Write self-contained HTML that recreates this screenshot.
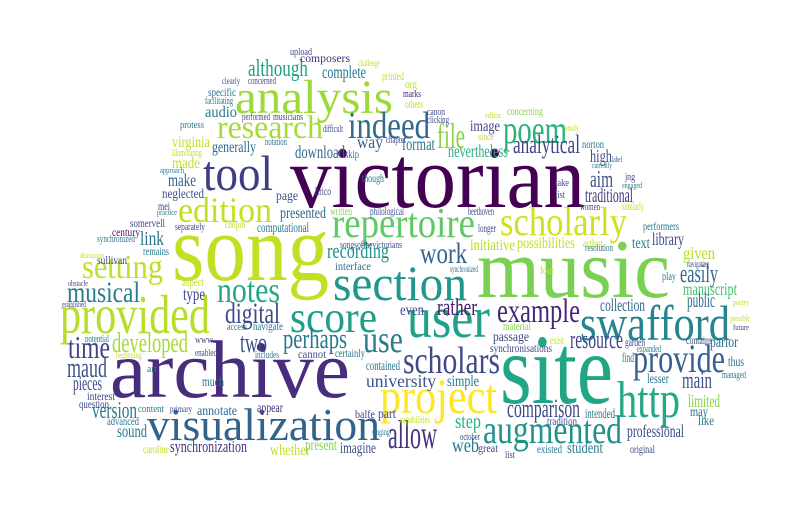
<!DOCTYPE html>
<html><head><meta charset="utf-8">
<style>
html,body{margin:0;padding:0;background:#fff;width:800px;height:520px;overflow:hidden}
svg{display:block}
text{font-family:"Liberation Serif",serif}
</style></head>
<body>
<svg width="800" height="520" viewBox="0 0 800 520">
<rect width="800" height="520" fill="#fff"/>
<g>
<text x="290" y="207" font-size="88" fill="#440154" textLength="295" lengthAdjust="spacingAndGlyphs">victorian</text>
<text x="172" y="280" font-size="94" fill="#c2df23" textLength="157" lengthAdjust="spacingAndGlyphs">song</text>
<text x="477" y="297" font-size="84" fill="#7ad151" textLength="193" lengthAdjust="spacingAndGlyphs">music</text>
<text x="110" y="397" font-size="82" fill="#472d7b" textLength="240" lengthAdjust="spacingAndGlyphs">archive</text>
<text x="500" y="403" font-size="100" fill="#21a685" textLength="113" lengthAdjust="spacingAndGlyphs">site</text>
<text x="235" y="113" font-size="48" fill="#9cd93b" textLength="158" lengthAdjust="spacingAndGlyphs">analysis</text>
<text x="203" y="190" font-size="50" fill="#3e3f82" textLength="70" lengthAdjust="spacingAndGlyphs">tool</text>
<text x="178" y="222" font-size="36" fill="#c2df23" textLength="94" lengthAdjust="spacingAndGlyphs">edition</text>
<text x="217" y="138" font-size="33" fill="#a5db36" textLength="106" lengthAdjust="spacingAndGlyphs">research</text>
<text x="348" y="138" font-size="38" fill="#31688e" textLength="82" lengthAdjust="spacingAndGlyphs">indeed</text>
<text x="333" y="300" font-size="50" fill="#1f978b" textLength="134" lengthAdjust="spacingAndGlyphs">section</text>
<text x="217" y="302" font-size="36" fill="#22a884" textLength="63" lengthAdjust="spacingAndGlyphs">notes</text>
<text x="60" y="333" font-size="55" fill="#b5de2b" textLength="150" lengthAdjust="spacingAndGlyphs">provided</text>
<text x="82" y="278" font-size="34" fill="#bddf26" textLength="81" lengthAdjust="spacingAndGlyphs">setting</text>
<text x="67" y="302" font-size="30" fill="#287c8e" textLength="73" lengthAdjust="spacingAndGlyphs">musical</text>
<text x="290" y="332" font-size="44" fill="#1f9e89" textLength="87" lengthAdjust="spacingAndGlyphs">score</text>
<text x="225" y="323" font-size="30" fill="#3e4989" textLength="55" lengthAdjust="spacingAndGlyphs">digital</text>
<text x="68" y="358" font-size="32" fill="#414487" textLength="42" lengthAdjust="spacingAndGlyphs">time</text>
<text x="112" y="352" font-size="28" fill="#a5db36" textLength="76" lengthAdjust="spacingAndGlyphs">developed</text>
<text x="283" y="348" font-size="28" fill="#2a788e" textLength="64" lengthAdjust="spacingAndGlyphs">perhaps</text>
<text x="240" y="352" font-size="28" fill="#3b528b" textLength="27" lengthAdjust="spacingAndGlyphs">two</text>
<text x="363" y="352" font-size="38" fill="#287c8e" textLength="40" lengthAdjust="spacingAndGlyphs">use</text>
<text x="67" y="377" font-size="28" fill="#3b528b" textLength="40" lengthAdjust="spacingAndGlyphs">maud</text>
<text x="73" y="390" font-size="20" fill="#3e4989" textLength="29" lengthAdjust="spacingAndGlyphs">pieces</text>
<text x="92" y="418" font-size="24" fill="#2a788e" textLength="45" lengthAdjust="spacingAndGlyphs">version</text>
<text x="147" y="440" font-size="46" fill="#33638d" textLength="233" lengthAdjust="spacingAndGlyphs">visualization</text>
<text x="170" y="452" font-size="17" fill="#46327e" textLength="77" lengthAdjust="spacingAndGlyphs">synchronization</text>
<text x="388" y="448" font-size="40" fill="#46327e" textLength="49" lengthAdjust="spacingAndGlyphs">allow</text>
<text x="380" y="413" font-size="50" fill="#fde725" textLength="117" lengthAdjust="spacingAndGlyphs">project</text>
<text x="407" y="337" font-size="58" fill="#1fa088" textLength="83" lengthAdjust="spacingAndGlyphs">user</text>
<text x="580" y="340" font-size="50" fill="#25858e" textLength="150" lengthAdjust="spacingAndGlyphs">swafford</text>
<text x="633" y="372" font-size="40" fill="#34618d" textLength="92" lengthAdjust="spacingAndGlyphs">provide</text>
<text x="617" y="417" font-size="52" fill="#22a884" textLength="63" lengthAdjust="spacingAndGlyphs">http</text>
<text x="483" y="443" font-size="40" fill="#21918c" textLength="139" lengthAdjust="spacingAndGlyphs">augmented</text>
<text x="507" y="417" font-size="26" fill="#3e4989" textLength="73" lengthAdjust="spacingAndGlyphs">comparison</text>
<text x="403" y="373" font-size="38" fill="#3e4a89" textLength="97" lengthAdjust="spacingAndGlyphs">scholars</text>
<text x="500" y="235" font-size="40" fill="#d0e11c" textLength="127" lengthAdjust="spacingAndGlyphs">scholarly</text>
<text x="332" y="237" font-size="42" fill="#5ec962" textLength="143" lengthAdjust="spacingAndGlyphs">repertoire</text>
<text x="420" y="263" font-size="30" fill="#33638d" textLength="47" lengthAdjust="spacingAndGlyphs">work</text>
<text x="497" y="322" font-size="34" fill="#482677" textLength="83" lengthAdjust="spacingAndGlyphs">example</text>
<text x="437" y="315" font-size="24" fill="#48186a" textLength="40" lengthAdjust="spacingAndGlyphs">rather</text>
<text x="503" y="143" font-size="40" fill="#2db27d" textLength="64" lengthAdjust="spacingAndGlyphs">poem</text>
<text x="437" y="148" font-size="36" fill="#86d549" textLength="28" lengthAdjust="spacingAndGlyphs">file</text>
<text x="513" y="153" font-size="26" fill="#414487" textLength="67" lengthAdjust="spacingAndGlyphs">analytical</text>
<text x="448" y="157" font-size="18" fill="#29af7f" textLength="60" lengthAdjust="spacingAndGlyphs">nevertheless</text>
<text x="570" y="348" font-size="26" fill="#3e4989" textLength="53" lengthAdjust="spacingAndGlyphs">resource</text>
<text x="682" y="388" font-size="24" fill="#3b528b" textLength="30" lengthAdjust="spacingAndGlyphs">main</text>
<text x="680" y="282" font-size="26" fill="#31688e" textLength="38" lengthAdjust="spacingAndGlyphs">easily</text>
<text x="683" y="295" font-size="18" fill="#44bf70" textLength="54" lengthAdjust="spacingAndGlyphs">manuscript</text>
<text x="687" y="307" font-size="20" fill="#31688e" textLength="28" lengthAdjust="spacingAndGlyphs">public</text>
<text x="590" y="187" font-size="24" fill="#3b528b" textLength="23" lengthAdjust="spacingAndGlyphs">aim</text>
<text x="585" y="202" font-size="20" fill="#46327e" textLength="48" lengthAdjust="spacingAndGlyphs">traditional</text>
<text x="248" y="76" font-size="24" fill="#1f9e89" textLength="60" lengthAdjust="spacingAndGlyphs">although</text>
<text x="322" y="78" font-size="18" fill="#2a788e" textLength="44" lengthAdjust="spacingAndGlyphs">complete</text>
<text x="300" y="62" font-size="12" fill="#46327e" textLength="50" lengthAdjust="spacingAndGlyphs">composers</text>
<text x="382" y="80" font-size="12" fill="#c2df23" textLength="22" lengthAdjust="spacingAndGlyphs">printed</text>
<text x="205" y="117" font-size="16" fill="#287c8e" textLength="32" lengthAdjust="spacingAndGlyphs">audio</text>
<text x="208" y="96" font-size="12" fill="#2a788e" textLength="28" lengthAdjust="spacingAndGlyphs">specific</text>
<text x="172" y="147" font-size="16" fill="#c2df23" textLength="38" lengthAdjust="spacingAndGlyphs">virginia</text>
<text x="212" y="152" font-size="16" fill="#31688e" textLength="44" lengthAdjust="spacingAndGlyphs">generally</text>
<text x="295" y="158" font-size="18" fill="#31688e" textLength="50" lengthAdjust="spacingAndGlyphs">download</text>
<text x="357" y="148" font-size="18" fill="#33638d" textLength="26" lengthAdjust="spacingAndGlyphs">way</text>
<text x="402" y="150" font-size="18" fill="#287c8e" textLength="33" lengthAdjust="spacingAndGlyphs">format</text>
<text x="470" y="131" font-size="16" fill="#3e4989" textLength="30" lengthAdjust="spacingAndGlyphs">image</text>
<text x="172" y="168" font-size="16" fill="#c2df23" textLength="28" lengthAdjust="spacingAndGlyphs">made</text>
<text x="168" y="186" font-size="18" fill="#31688e" textLength="28" lengthAdjust="spacingAndGlyphs">make</text>
<text x="162" y="198" font-size="14" fill="#3b528b" textLength="42" lengthAdjust="spacingAndGlyphs">neglected</text>
<text x="140" y="245" font-size="20" fill="#2a788e" textLength="24" lengthAdjust="spacingAndGlyphs">link</text>
<text x="327" y="258" font-size="22" fill="#21918c" textLength="62" lengthAdjust="spacingAndGlyphs">recording</text>
<text x="280" y="218" font-size="16" fill="#31688e" textLength="46" lengthAdjust="spacingAndGlyphs">presented</text>
<text x="257" y="232" font-size="14" fill="#2a788e" textLength="52" lengthAdjust="spacingAndGlyphs">computational</text>
<text x="276" y="200" font-size="14" fill="#3b528b" textLength="22" lengthAdjust="spacingAndGlyphs">page</text>
<text x="335" y="270" font-size="12" fill="#2a788e" textLength="36" lengthAdjust="spacingAndGlyphs">interface</text>
<text x="330" y="215" font-size="12" fill="#86d549" textLength="22" lengthAdjust="spacingAndGlyphs">written</text>
<text x="370" y="215" font-size="12" fill="#3b528b" textLength="34" lengthAdjust="spacingAndGlyphs">philological</text>
<text x="130" y="227" font-size="12" fill="#3e4989" textLength="35" lengthAdjust="spacingAndGlyphs">somervell</text>
<text x="112" y="236" font-size="12" fill="#48186a" textLength="28" lengthAdjust="spacingAndGlyphs">century</text>
<text x="97" y="264" font-size="12" fill="#3e4989" textLength="30" lengthAdjust="spacingAndGlyphs">sullivan</text>
<text x="183" y="300" font-size="18" fill="#3e4989" textLength="22" lengthAdjust="spacingAndGlyphs">type</text>
<text x="182" y="286" font-size="12" fill="#c2df23" textLength="22" lengthAdjust="spacingAndGlyphs">aspect</text>
<text x="227" y="330" font-size="10" fill="#2a788e" textLength="20" lengthAdjust="spacingAndGlyphs">access</text>
<text x="253" y="330" font-size="12" fill="#2a788e" textLength="30" lengthAdjust="spacingAndGlyphs">navigate</text>
<text x="298" y="358" font-size="12" fill="#3b528b" textLength="28" lengthAdjust="spacingAndGlyphs">cannot</text>
<text x="335" y="357" font-size="12" fill="#2a788e" textLength="30" lengthAdjust="spacingAndGlyphs">certainly</text>
<text x="366" y="370" font-size="14" fill="#2a788e" textLength="34" lengthAdjust="spacingAndGlyphs">contained</text>
<text x="366" y="387" font-size="18" fill="#3b528b" textLength="70" lengthAdjust="spacingAndGlyphs">university</text>
<text x="447" y="386" font-size="16" fill="#2a788e" textLength="32" lengthAdjust="spacingAndGlyphs">simple</text>
<text x="202" y="386" font-size="14" fill="#2a788e" textLength="22" lengthAdjust="spacingAndGlyphs">much</text>
<text x="87" y="400" font-size="12" fill="#3e4989" textLength="28" lengthAdjust="spacingAndGlyphs">interest</text>
<text x="79" y="408" font-size="12" fill="#3e4989" textLength="30" lengthAdjust="spacingAndGlyphs">question</text>
<text x="117" y="437" font-size="18" fill="#2a788e" textLength="30" lengthAdjust="spacingAndGlyphs">sound</text>
<text x="107" y="425" font-size="12" fill="#2a788e" textLength="32" lengthAdjust="spacingAndGlyphs">advanced</text>
<text x="197" y="415" font-size="14" fill="#31688e" textLength="40" lengthAdjust="spacingAndGlyphs">annotate</text>
<text x="257" y="412" font-size="14" fill="#46327e" textLength="26" lengthAdjust="spacingAndGlyphs">appear</text>
<text x="270" y="455" font-size="16" fill="#c2df23" textLength="40" lengthAdjust="spacingAndGlyphs">whether</text>
<text x="305" y="450" font-size="16" fill="#86d549" textLength="32" lengthAdjust="spacingAndGlyphs">present</text>
<text x="340" y="453" font-size="16" fill="#3b528b" textLength="36" lengthAdjust="spacingAndGlyphs">imagine</text>
<text x="143" y="453" font-size="12" fill="#c2df23" textLength="26" lengthAdjust="spacingAndGlyphs">caroline</text>
<text x="355" y="418" font-size="12" fill="#3e4989" textLength="20" lengthAdjust="spacingAndGlyphs">balfe</text>
<text x="378" y="418" font-size="14" fill="#3e4989" textLength="18" lengthAdjust="spacingAndGlyphs">part</text>
<text x="455" y="428" font-size="20" fill="#2db27d" textLength="26" lengthAdjust="spacingAndGlyphs">step</text>
<text x="452" y="452" font-size="20" fill="#2a788e" textLength="27" lengthAdjust="spacingAndGlyphs">web</text>
<text x="478" y="452" font-size="12" fill="#3e4989" textLength="20" lengthAdjust="spacingAndGlyphs">great</text>
<text x="567" y="453" font-size="16" fill="#2a788e" textLength="36" lengthAdjust="spacingAndGlyphs">student</text>
<text x="537" y="453" font-size="12" fill="#2a788e" textLength="25" lengthAdjust="spacingAndGlyphs">existed</text>
<text x="627" y="437" font-size="18" fill="#3e4989" textLength="57" lengthAdjust="spacingAndGlyphs">professional</text>
<text x="630" y="453" font-size="12" fill="#3e4989" textLength="25" lengthAdjust="spacingAndGlyphs">original</text>
<text x="585" y="418" font-size="14" fill="#2a788e" textLength="30" lengthAdjust="spacingAndGlyphs">intended</text>
<text x="547" y="425" font-size="12" fill="#3b528b" textLength="30" lengthAdjust="spacingAndGlyphs">tradition</text>
<text x="688" y="407" font-size="18" fill="#86d549" textLength="32" lengthAdjust="spacingAndGlyphs">limited</text>
<text x="690" y="416" font-size="14" fill="#2a788e" textLength="18" lengthAdjust="spacingAndGlyphs">may</text>
<text x="698" y="425" font-size="14" fill="#2a788e" textLength="16" lengthAdjust="spacingAndGlyphs">like</text>
<text x="647" y="383" font-size="14" fill="#2a788e" textLength="22" lengthAdjust="spacingAndGlyphs">lesser</text>
<text x="728" y="366" font-size="14" fill="#2a788e" textLength="16" lengthAdjust="spacingAndGlyphs">thus</text>
<text x="710" y="347" font-size="16" fill="#31688e" textLength="28" lengthAdjust="spacingAndGlyphs">parlor</text>
<text x="686" y="344" font-size="12" fill="#3b528b" textLength="26" lengthAdjust="spacingAndGlyphs">contains</text>
<text x="600" y="311" font-size="18" fill="#31688e" textLength="45" lengthAdjust="spacingAndGlyphs">collection</text>
<text x="683" y="259" font-size="18" fill="#b5de2b" textLength="32" lengthAdjust="spacingAndGlyphs">given</text>
<text x="652" y="245" font-size="18" fill="#3e4989" textLength="32" lengthAdjust="spacingAndGlyphs">library</text>
<text x="632" y="248" font-size="16" fill="#2a788e" textLength="18" lengthAdjust="spacingAndGlyphs">text</text>
<text x="643" y="230" font-size="12" fill="#2a788e" textLength="36" lengthAdjust="spacingAndGlyphs">performers</text>
<text x="470" y="250" font-size="16" fill="#b5de2b" textLength="45" lengthAdjust="spacingAndGlyphs">initiative</text>
<text x="517" y="248" font-size="16" fill="#c2df23" textLength="58" lengthAdjust="spacingAndGlyphs">possibilities</text>
<text x="583" y="247" font-size="12" fill="#c2df23" textLength="20" lengthAdjust="spacingAndGlyphs">arthur</text>
<text x="590" y="162" font-size="18" fill="#3b528b" textLength="22" lengthAdjust="spacingAndGlyphs">high</text>
<text x="507" y="115" font-size="12" fill="#86d549" textLength="36" lengthAdjust="spacingAndGlyphs">concerning</text>
<text x="582" y="148" font-size="12" fill="#2a788e" textLength="22" lengthAdjust="spacingAndGlyphs">norton</text>
<text x="622" y="210" font-size="12" fill="#c2df23" textLength="22" lengthAdjust="spacingAndGlyphs">similarly</text>
<text x="468" y="215" font-size="12" fill="#3e4989" textLength="26" lengthAdjust="spacingAndGlyphs">beethoven</text>
<text x="478" y="232" font-size="12" fill="#3e4989" textLength="18" lengthAdjust="spacingAndGlyphs">longer</text>
<text x="400" y="315" font-size="16" fill="#3e4989" textLength="24" lengthAdjust="spacingAndGlyphs">even</text>
<text x="503" y="330" font-size="12" fill="#86d549" textLength="28" lengthAdjust="spacingAndGlyphs">material</text>
<text x="493" y="341" font-size="14" fill="#3e4989" textLength="36" lengthAdjust="spacingAndGlyphs">passage</text>
<text x="490" y="352" font-size="12" fill="#3e4989" textLength="62" lengthAdjust="spacingAndGlyphs">synchronisations</text>
<text x="550" y="344" font-size="12" fill="#c2df23" textLength="14" lengthAdjust="spacingAndGlyphs">exist</text>
<text x="622" y="362" font-size="14" fill="#2a788e" textLength="12" lengthAdjust="spacingAndGlyphs">find</text>
<text x="625" y="346" font-size="12" fill="#3e4989" textLength="20" lengthAdjust="spacingAndGlyphs">garden</text>
<text x="405" y="88" font-size="12" fill="#c2df23" textLength="12" lengthAdjust="spacingAndGlyphs">org</text>
<text x="403" y="97" font-size="10" fill="#48186a" textLength="18" lengthAdjust="spacingAndGlyphs">marks</text>
<text x="405" y="108" font-size="12" fill="#c2df23" textLength="18" lengthAdjust="spacingAndGlyphs">others</text>
<text x="290" y="55" font-size="10" fill="#3e4989" textLength="22" lengthAdjust="spacingAndGlyphs">upload</text>
<text x="158" y="210" font-size="12" fill="#3e4989" textLength="12" lengthAdjust="spacingAndGlyphs">mei</text>
<text x="143" y="255" font-size="12" fill="#2a788e" textLength="26" lengthAdjust="spacingAndGlyphs">remains</text>
<text x="225" y="228" font-size="12" fill="#c2df23" textLength="20" lengthAdjust="spacingAndGlyphs">chopin</text>
<text x="315" y="195" font-size="12" fill="#3e4989" textLength="16" lengthAdjust="spacingAndGlyphs">lirico</text>
<text x="362" y="182" font-size="12" fill="#2a788e" textLength="22" lengthAdjust="spacingAndGlyphs">though</text>
<text x="340" y="248" font-size="10" fill="#3e4989" textLength="62" lengthAdjust="spacingAndGlyphs">songsofthevictorians</text>
<text x="330" y="248" font-size="9" fill="#3e4989" textLength="0.1" lengthAdjust="spacingAndGlyphs"> </text>
<text x="273" y="120" font-size="10" fill="#3e4989" textLength="30" lengthAdjust="spacingAndGlyphs">musicians</text>
<text x="242" y="120" font-size="10" fill="#3e4989" textLength="28" lengthAdjust="spacingAndGlyphs">performed</text>
<text x="205" y="104" font-size="10" fill="#2a788e" textLength="28" lengthAdjust="spacingAndGlyphs">facilitating</text>
<text x="222" y="84" font-size="9" fill="#3e4989" textLength="18" lengthAdjust="spacingAndGlyphs">clearly</text>
<text x="248" y="84" font-size="10" fill="#3e4989" textLength="28" lengthAdjust="spacingAndGlyphs">concerned</text>
<text x="323" y="132" font-size="10" fill="#3e4989" textLength="20" lengthAdjust="spacingAndGlyphs">difficult</text>
<text x="265" y="145" font-size="10" fill="#2a788e" textLength="22" lengthAdjust="spacingAndGlyphs">notation</text>
<text x="386" y="143" font-size="10" fill="#3e4989" textLength="20" lengthAdjust="spacingAndGlyphs">chapter</text>
<text x="345" y="158" font-size="12" fill="#2a788e" textLength="14" lengthAdjust="spacingAndGlyphs">skip</text>
<text x="172" y="156" font-size="10" fill="#c2df23" textLength="30" lengthAdjust="spacingAndGlyphs">illuminating</text>
<text x="180" y="128" font-size="10" fill="#2a788e" textLength="24" lengthAdjust="spacingAndGlyphs">protess</text>
<text x="160" y="173" font-size="8" fill="#2a788e" textLength="24" lengthAdjust="spacingAndGlyphs">approach</text>
<text x="157" y="215" font-size="8" fill="#2a788e" textLength="20" lengthAdjust="spacingAndGlyphs">practice</text>
<text x="175" y="230" font-size="10" fill="#3e4989" textLength="30" lengthAdjust="spacingAndGlyphs">separately</text>
<text x="97" y="242" font-size="10" fill="#2a788e" textLength="38" lengthAdjust="spacingAndGlyphs">synchronized</text>
<text x="80" y="258" font-size="8" fill="#c2df23" textLength="24" lengthAdjust="spacingAndGlyphs">discussion</text>
<text x="68" y="286" font-size="8" fill="#3e4989" textLength="20" lengthAdjust="spacingAndGlyphs">obstacle</text>
<text x="62" y="307" font-size="8" fill="#3e4989" textLength="24" lengthAdjust="spacingAndGlyphs">established</text>
<text x="85" y="342" font-size="10" fill="#2a788e" textLength="24" lengthAdjust="spacingAndGlyphs">potential</text>
<text x="116" y="358" font-size="9" fill="#c2df23" textLength="26" lengthAdjust="spacingAndGlyphs">beginning</text>
<text x="195" y="356" font-size="10" fill="#3e4989" textLength="22" lengthAdjust="spacingAndGlyphs">enabled</text>
<text x="255" y="358" font-size="10" fill="#2a788e" textLength="24" lengthAdjust="spacingAndGlyphs">includes</text>
<text x="195" y="343" font-size="10" fill="#3e4989" textLength="18" lengthAdjust="spacingAndGlyphs">www</text>
<text x="147" y="372" font-size="10" fill="#2a788e" textLength="10" lengthAdjust="spacingAndGlyphs">art</text>
<text x="138" y="412" font-size="10" fill="#2a788e" textLength="26" lengthAdjust="spacingAndGlyphs">content</text>
<text x="170" y="412" font-size="9" fill="#3e4989" textLength="22" lengthAdjust="spacingAndGlyphs">primary</text>
<text x="400" y="423" font-size="10" fill="#c2df23" textLength="30" lengthAdjust="spacingAndGlyphs">capabilities</text>
<text x="372" y="435" font-size="9" fill="#2a788e" textLength="18" lengthAdjust="spacingAndGlyphs">singing</text>
<text x="460" y="440" font-size="10" fill="#3e4989" textLength="20" lengthAdjust="spacingAndGlyphs">october</text>
<text x="505" y="458" font-size="10" fill="#3e4989" textLength="10" lengthAdjust="spacingAndGlyphs">list</text>
<text x="637" y="352" font-size="10" fill="#2a788e" textLength="24" lengthAdjust="spacingAndGlyphs">expanded</text>
<text x="722" y="378" font-size="10" fill="#2a788e" textLength="24" lengthAdjust="spacingAndGlyphs">managed</text>
<text x="733" y="330" font-size="8" fill="#3e4989" textLength="16" lengthAdjust="spacingAndGlyphs">future</text>
<text x="730" y="321" font-size="8" fill="#c2df23" textLength="20" lengthAdjust="spacingAndGlyphs">possible</text>
<text x="733" y="305" font-size="8" fill="#c2df23" textLength="16" lengthAdjust="spacingAndGlyphs">poetry</text>
<text x="662" y="280" font-size="12" fill="#2a788e" textLength="14" lengthAdjust="spacingAndGlyphs">play</text>
<text x="687" y="267" font-size="9" fill="#3e4989" textLength="22" lengthAdjust="spacingAndGlyphs">navigating</text>
<text x="585" y="251" font-size="10" fill="#2a788e" textLength="28" lengthAdjust="spacingAndGlyphs">resolution</text>
<text x="540" y="274" font-size="12" fill="#c2df23" textLength="14" lengthAdjust="spacingAndGlyphs">four</text>
<text x="450" y="272" font-size="9" fill="#2a788e" textLength="28" lengthAdjust="spacingAndGlyphs">synchronized</text>
<text x="580" y="210" font-size="10" fill="#3e4989" textLength="20" lengthAdjust="spacingAndGlyphs">women</text>
<text x="555" y="186" font-size="10" fill="#3e4989" textLength="14" lengthAdjust="spacingAndGlyphs">take</text>
<text x="555" y="198" font-size="10" fill="#3e4989" textLength="10" lengthAdjust="spacingAndGlyphs">list</text>
<text x="625" y="180" font-size="10" fill="#3e4989" textLength="10" lengthAdjust="spacingAndGlyphs">jng</text>
<text x="622" y="188" font-size="8" fill="#2a788e" textLength="20" lengthAdjust="spacingAndGlyphs">engaged</text>
<text x="478" y="140" font-size="10" fill="#c2df23" textLength="16" lengthAdjust="spacingAndGlyphs">since</text>
<text x="427" y="115" font-size="10" fill="#3e4989" textLength="18" lengthAdjust="spacingAndGlyphs">canon</text>
<text x="427" y="123" font-size="10" fill="#3e4989" textLength="22" lengthAdjust="spacingAndGlyphs">clicking</text>
<text x="485" y="118" font-size="8" fill="#c2df23" textLength="16" lengthAdjust="spacingAndGlyphs">editor</text>
<text x="565" y="131" font-size="9" fill="#c2df23" textLength="14" lengthAdjust="spacingAndGlyphs">study</text>
<text x="612" y="162" font-size="8" fill="#3e4989" textLength="10" lengthAdjust="spacingAndGlyphs">label</text>
<text x="592" y="168" font-size="8" fill="#2a788e" textLength="20" lengthAdjust="spacingAndGlyphs">currently</text>
<text x="358" y="66" font-size="9" fill="#c2df23" textLength="22" lengthAdjust="spacingAndGlyphs">challenge</text>
<text x="307" y="62" font-size="8" fill="#3e4989" textLength="0.1" lengthAdjust="spacingAndGlyphs"> </text>
</g>
</svg>
</body></html>
